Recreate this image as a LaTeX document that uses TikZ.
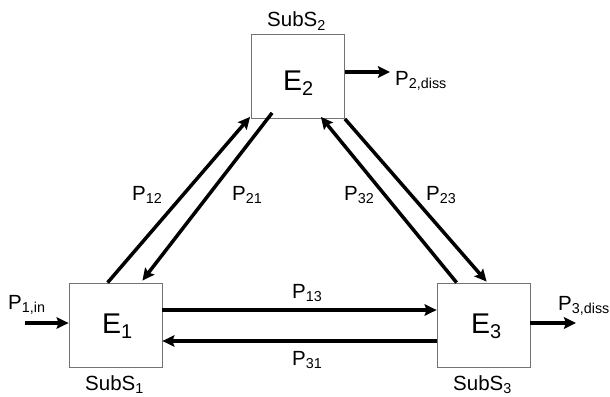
\documentclass[tikz,border=0pt]{standalone}
\usepackage{fontspec}
\setmainfont{Liberation Sans}
\usetikzlibrary{arrows.meta,calc}

\begin{document}
\begin{tikzpicture}[x=1pt,y=-1pt,
  subsys/.style={draw=gray!90!black, line width=0.8pt, minimum width=93pt, minimum height=84pt, inner sep=0pt},
  flow/.style={line width=3.5pt, -{Stealth[length=12pt,width=11.5pt,inset=2pt]}},
  lbl/.style={anchor=base west, inner sep=0pt, font=\fontsize{20.5}{23}\selectfont}
]
\useasboundingbox (0,0) rectangle (610,396);

% Subsystems
\node[subsys] (E1) at (115.5,325) {};
\node[subsys] (E2) at (298,76.5) {};
\node[subsys] (E3) at (483.5,325) {};

% Energy labels
\node[lbl, font=\fontsize{28.5}{30}\selectfont] (e1) at (102,333) {E\textsubscript{1}};
\node[lbl, font=\fontsize{28.5}{30}\selectfont] (e2) at (283,90) {E\textsubscript{2}};
\node[lbl, font=\fontsize{28.5}{30}\selectfont] (e3) at (471,333) {E\textsubscript{3}};

% Subsystem names
\node[lbl] (s1) at (85,390) {SubS\textsubscript{1}};
\node[lbl] (s2) at (267,27) {SubS\textsubscript{2}};
\node[lbl] (s3) at (453,390) {SubS\textsubscript{3}};

% Input and dissipation
\coordinate (in) at (25,323);
\coordinate (out2) at (390,72);
\coordinate (out3) at (576,323);
\draw[flow] (in) -- (in -| E1.west);
\draw[flow] (out2 -| E2.east) -- (out2);
\draw[flow] (out3 -| E3.east) -- (out3);

% Exchange between E1 and E3
\draw[flow] ([yshift=15pt]E1.east) -- ([yshift=15pt]E3.west);
\draw[flow] ([yshift=-16pt]E3.west) -- ([yshift=-16pt]E1.east);

% Exchange between E1 and E2
\draw[flow] ($(E1.north west)+(39,0)$) -- ($(E2.south west)+(-1,-2)$);
\draw[flow] ($(E2.south west)+(21,-6)$) -- ($(E1.north east)+(-20,-2)$);

% Exchange between E2 and E3
\draw[flow] ($(E3.north west)+(20,0)$) -- ($(E2.south east)+(-24,-2)$);
\draw[flow] (E2.south east) -- ($(E3.north west)+(50,-1)$);

% Flow labels
\node[lbl] (p1in) at (8,309) {P\textsubscript{1,in}};
\node[lbl] (p2d) at (395,85) {P\textsubscript{2,diss}};
\node[lbl] (p3d) at (558,310) {P\textsubscript{3,diss}};
\node[lbl] (p12) at (132,200) {P\textsubscript{12}};
\node[lbl] (p21) at (232,200) {P\textsubscript{21}};
\node[lbl] (p32) at (344,200) {P\textsubscript{32}};
\node[lbl] (p23) at (426,200) {P\textsubscript{23}};
\node[lbl] (p13) at (292,298) {P\textsubscript{13}};
\node[lbl] (p31) at (292,365) {P\textsubscript{31}};

\end{tikzpicture}
\end{document}
